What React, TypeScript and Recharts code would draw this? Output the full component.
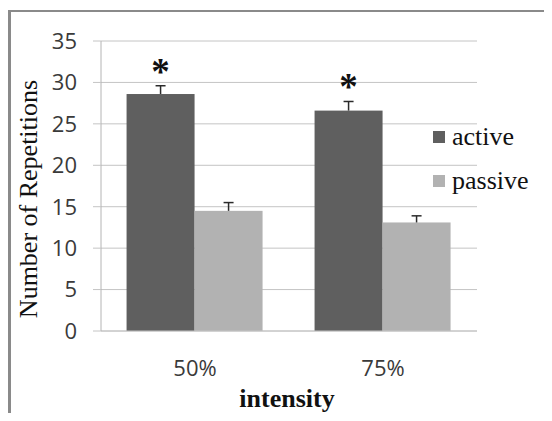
import React from 'react';
import { BarChart, Bar, XAxis, YAxis, CartesianGrid, Legend } from 'recharts';

const categories = ['50%', '75%'];
const activeValues = [28.6, 26.6];
const activeErrors = [1.0, 1.1];
const passiveValues = [14.5, 13.1];
const passiveErrors = [1.0, 0.8];
const significance = ['*', '*'];
const yTicks = [0, 5, 10, 15, 20, 25, 30, 35];

const data = categories.map((intensity, i) => ({
  intensity,
  active: activeValues[i],
  activeErr: activeErrors[i],
  passive: passiveValues[i],
  passiveErr: passiveErrors[i],
  sig: significance[i],
}));

const SERIF = '"Liberation Serif", "Times New Roman", serif';
const SANS = '"Open Sans", "Liberation Sans", sans-serif';

const ACTIVE = '#5f5f5f';
const PASSIVE = '#b2b2b2';

// bar with an upper-only error bar (and optional asterisk) on top
const barWithError = (valueKey: string, errKey: string, showSig: boolean) => (props: any) => {
  const { x, y, width, height, payload, fill } = props;
  const value = payload[valueKey];
  const ppu = value ? height / value : 0;
  const top = y - payload[errKey] * ppu;
  const cx = x + width / 2;
  return (
    <g>
      <rect x={x} y={y} width={width} height={height} fill={fill} />
      <line x1={cx} y1={y} x2={cx} y2={top} stroke="#2b2b2b" strokeWidth={1.5} />
      <line x1={cx - 5} y1={top} x2={cx + 5} y2={top} stroke="#2b2b2b" strokeWidth={1.5} />
      {showSig && payload.sig ? (
        <text x={cx} y={top - 2} textAnchor="middle" fontFamily={SERIF} fontWeight="bold" fontSize={37} fill="#111">
          {payload.sig}
        </text>
      ) : null}
    </g>
  );
};

const LegendBox = () => (
  <div style={{ fontFamily: SERIF, fontSize: 26, color: '#111' }}>
    {[
      { name: 'active', color: ACTIVE },
      { name: 'passive', color: PASSIVE },
    ].map((item) => (
      <div key={item.name} style={{ height: 44, display: 'flex', alignItems: 'center' }}>
        <span style={{ width: 12, height: 12, background: item.color, display: 'inline-block', marginRight: 7 }} />
        <span style={{ lineHeight: '44px' }}>{item.name}</span>
      </div>
    ))}
  </div>
);

const App: React.FC = () => {
  return (
    <div style={{ position: 'relative', width: 552, height: 421, margin: -8, overflow: 'hidden', background: '#fff' }}>
      <div
        style={{
          position: 'absolute',
          left: 8,
          top: 10,
          width: 600,
          height: 500,
          borderLeft: '3px solid #8a8a8a',
          borderTop: '2px solid #8a8a8a',
        }}
      />
      <div style={{ position: 'absolute', left: 0, top: 0 }}>
        <BarChart
          width={552}
          height={421}
          data={data}
          margin={{ top: 41, right: 75, bottom: 50, left: 41 }}
          barCategoryGap="13.6%"
          barGap={0}
        >
          <CartesianGrid vertical={false} stroke="#c4c4c4" />
          <XAxis
            dataKey="intensity"
            height={40}
            axisLine={{ stroke: '#c4c4c4' }}
            tickLine={false}
            tickSize={8}
            tickMargin={21}
            tick={{ fontFamily: SANS, fontSize: 22, fill: '#3a3a3a' }}
          />
          <YAxis
            width={60}
            domain={[0, 35]}
            ticks={yTicks}
            interval={0}
            axisLine={{ stroke: '#b4b4b4' }}
            tickLine={{ stroke: '#c4c4c4' }}
            tickSize={8}
            tickMargin={16}
            tick={{ fontFamily: SANS, fontSize: 22, fill: '#3a3a3a' }}
          />
          <Legend
            layout="vertical"
            align="center"
            verticalAlign="middle"
            content={() => <LegendBox />}
            wrapperStyle={{ left: 433, top: 115, width: 120 }}
          />
          <Bar
            dataKey="active"
            name="active"
            fill={ACTIVE}
            isAnimationActive={false}
            shape={barWithError('active', 'activeErr', true)}
          />
          <Bar
            dataKey="passive"
            name="passive"
            fill={PASSIVE}
            isAnimationActive={false}
            shape={barWithError('passive', 'passiveErr', false)}
          />
        </BarChart>
      </div>
      <svg width={552} height={421} style={{ position: 'absolute', left: 0, top: 0, pointerEvents: 'none' }}>
        <text
          transform="translate(37,199) rotate(-90)"
          textAnchor="middle"
          fontFamily={SERIF}
          fontSize={26}
          fill="#111"
        >
          Number of Repetitions
        </text>
        <text x={287} y={407} textAnchor="middle" fontFamily={SERIF} fontWeight="bold" fontSize={26} fill="#111">
          intensity
        </text>
      </svg>
    </div>
  );
};

export default App;
